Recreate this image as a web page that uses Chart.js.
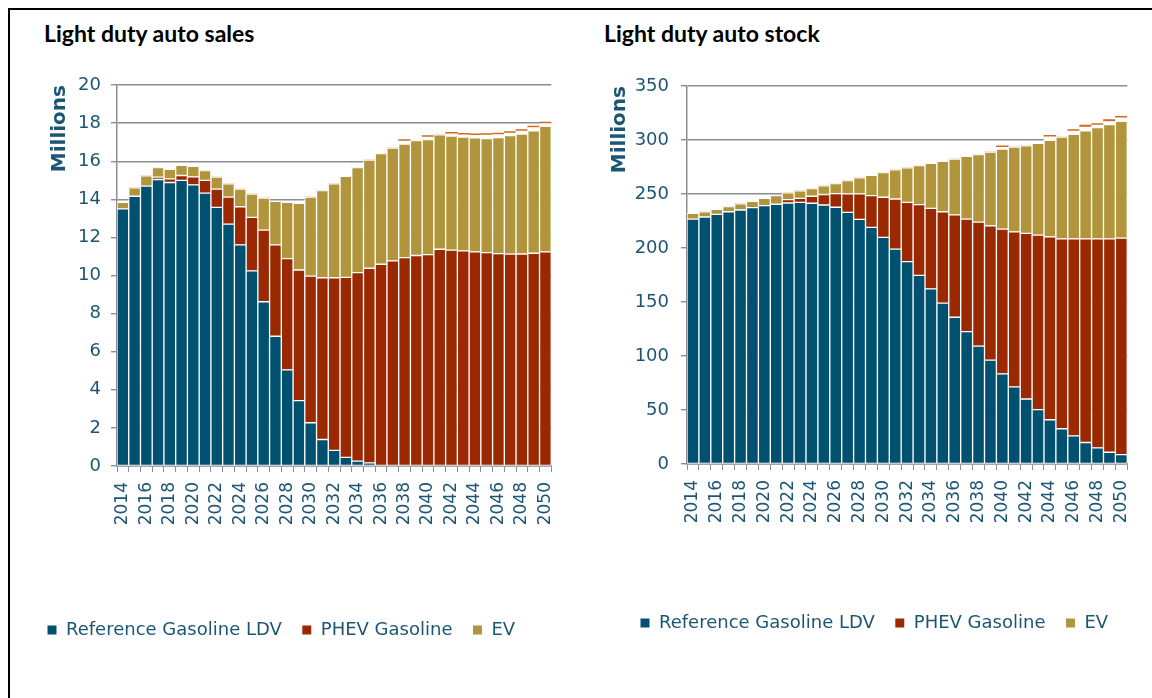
<!DOCTYPE html>
<html>
<head>
<meta charset="utf-8">
<script src="https://cdn.jsdelivr.net/npm/chart.js@4.4.0/dist/chart.umd.min.js"></script>
<style>
  html, body { margin: 0; background: #fff; overflow: hidden; }
  #frame { position: absolute; left: 8px; top: 8px; width: 1160px; height: 720px; border-left: 2px solid #000; border-top: 2px solid #000; }
  canvas { position: absolute; top: 0; }
  .title { position: absolute; top: 20px; font: bold 23px Lato, sans-serif; color: #000; line-height: 26px; }
</style>
</head>
<body>
<div id="frame"></div>
<div class="title" style="left:44px">Light duty auto sales</div>
<div class="title" style="left:604px">Light duty auto stock</div>
<canvas id="sales" width="576" height="698" style="left:0"></canvas>
<canvas id="stock" width="576" height="698" style="left:576px"></canvas>
<script>
// years on the x axis
const years = ['2014','2015','2016','2017','2018','2019','2020','2021','2022','2023',
  '2024','2025','2026','2027','2028','2029','2030','2031','2032','2033',
  '2034','2035','2036','2037','2038','2039','2040','2041','2042','2043',
  '2044','2045','2046','2047','2048','2049','2050'];

// sales, millions
const salesGasoline = [13.50, 14.16, 14.69, 15.04, 14.88, 14.99, 14.76, 14.32, 13.58, 12.70,
  11.61, 10.24, 8.62, 6.81, 5.05, 3.43, 2.27, 1.39, 0.82, 0.45,
  0.26, 0.16, 0, 0, 0, 0, 0, 0, 0, 0,
  0, 0, 0, 0, 0, 0, 0];
const salesPhev = [0, 0, 0, 0.12, 0.19, 0.26, 0.42, 0.67, 0.95, 1.41,
  2.00, 2.81, 3.76, 4.80, 5.84, 6.86, 7.70, 8.49, 9.06, 9.45,
  9.89, 10.22, 10.59, 10.77, 10.94, 11.05, 11.10, 11.38, 11.33, 11.29,
  11.24, 11.20, 11.15, 11.12, 11.13, 11.17, 11.24];
const salesEv = [0.34, 0.44, 0.54, 0.50, 0.50, 0.53, 0.55, 0.52, 0.63, 0.70,
  0.93, 1.23, 1.68, 2.29, 2.95, 3.50, 4.14, 4.58, 4.93, 5.30,
  5.51, 5.68, 5.81, 5.92, 5.96, 6.03, 6.03, 6.00, 5.99, 5.98,
  5.99, 5.99, 6.09, 6.22, 6.30, 6.43, 6.59];
// small unlabelled series on top (blank one, then the thin orange one)
const salesBlank = [0, 0, 0, 0, 0, 0, 0, 0, 0, 0,
  0, 0, 0, 0, 0, 0, 0, 0, 0, 0,
  0, 0, 0, 0, 0.15, 0, 0.14, 0, 0.12, 0.11,
  0.13, 0.18, 0.16, 0.13, 0.15, 0.17, 0.14];
const salesOther = [0, 0, 0, 0, 0, 0, 0, 0, 0, 0,
  0, 0, 0, 0, 0, 0, 0, 0, 0, 0,
  0, 0, 0, 0, 0.08, 0, 0.08, 0, 0.08, 0.08,
  0.08, 0.08, 0.08, 0.08, 0.08, 0.08, 0.08];

// stock, millions
const stockGasoline = [226.8, 228.7, 231.2, 233.6, 235.2, 237.4, 239.2, 240.5, 241.7, 242.3,
  241.4, 239.8, 237.7, 233.0, 226.5, 219.1, 209.8, 198.9, 187.4, 174.7,
  162.2, 148.9, 135.9, 122.6, 109.2, 96.2, 83.5, 71.4, 60.2, 50.3,
  41.0, 32.6, 26.1, 19.9, 14.9, 10.9, 8.7];
const stockPhev = [0, 0, 0, 0, 0, 0, 0, 0, 3.1, 3.7,
  6.5, 9.7, 12.7, 17.1, 23.6, 29.4, 37.2, 46.5, 54.9, 65.5,
  74.5, 84.7, 94.7, 104.2, 114.8, 124.4, 134.0, 143.6, 153.3, 161.6,
  169.4, 175.9, 182.4, 188.6, 193.6, 197.6, 200.4];
const stockEv = [5.3, 4.9, 4.6, 4.7, 5.6, 5.8, 6.8, 8.0, 6.2, 6.9,
  7.1, 8.1, 9.3, 12.4, 14.9, 18.9, 22.9, 27.0, 32.0, 36.0,
  41.6, 46.6, 51.7, 58.0, 62.4, 68.3, 74.2, 78.5, 81.0, 85.1,
  89.3, 94.3, 96.8, 99.9, 103.1, 105.8, 108.3];
const stockBlank = [0, 0, 0, 0, 0, 0, 0, 0, 0, 0,
  0, 0, 0, 0, 0, 0, 0, 0, 0, 0,
  0, 0, 0, 0, 0, 0, 1.5, 0, 0, 0,
  3.3, 0, 3.0, 3.6, 2.3, 2.8, 3.2];
const stockOther = [0, 0, 0, 0, 0, 0, 0, 0, 0, 0,
  0, 0, 0, 0, 0, 0, 0, 0, 0, 0,
  0, 0, 0, 0, 0, 0, 1.4, 0, 0, 0,
  1.4, 0, 1.4, 1.8, 1.4, 1.8, 1.4];

const BLUE = '#00506f';
const RED = '#9a2800';
const GOLD = '#b1953c';
const ORANGE = '#d2691e';
const TEXT = '#1d5674';
const AXIS = '#8a8d91';

Chart.defaults.font.family = "'DejaVu Sans', Verdana, sans-serif";

function makeChart(id, c) {
    return new Chart(document.getElementById(id), {
        type: 'bar',
        data: {
            labels: years,
            datasets: [
                { label: 'Reference Gasoline LDV', data: c.gasoline, backgroundColor: BLUE },
                { label: 'PHEV Gasoline', data: c.phev, backgroundColor: RED },
                { label: 'EV', data: c.ev, backgroundColor: GOLD },
                { label: 'Other', data: c.blank, backgroundColor: '#ffffff', borderWidth: 0 },
                { label: 'Other fuels', data: c.other, backgroundColor: ORANGE, borderWidth: 0 }
            ]
        },
        options: {
            responsive: false,
            animation: false,
            datasets: {
                bar: { categoryPercentage: 1, barPercentage: 1, borderColor: '#ffffff', borderWidth: 1, borderSkipped: false }
            },
            layout: { padding: c.padding },
            plugins: {
                tooltip: { enabled: false },
                legend: {
                    position: 'bottom',
                    align: 'start',
                    labels: {
                        boxWidth: 10, boxHeight: 10, padding: 20, color: TEXT,
                        font: { size: 18 },
                        filter: item => item.datasetIndex < 3
                    }
                }
            },
            scales: {
                x: {
                    stacked: true,
                    grid: { drawOnChartArea: false, color: AXIS, tickLength: 6 },
                    border: { color: AXIS, width: 1.5 },
                    ticks: {
                        autoSkip: false, maxRotation: 90, minRotation: 90, padding: 10,
                        color: TEXT, font: { size: 17 },
                        callback: function(v, i) { return i % 2 === 0 ? this.getLabelForValue(v) : ''; }
                    },
                    afterFit: s => { s.height = c.xHeight; }
                },
                y: {
                    stacked: true,
                    min: 0,
                    max: c.max,
                    ticks: { stepSize: c.step, padding: c.tickPad, color: TEXT, font: { size: 18 } },
                    grid: { color: AXIS, lineWidth: 1.4, tickLength: 6 },
                    border: { color: AXIS, width: 1.5 },
                    title: {
                        display: true, text: 'Millions', align: 'end', color: TEXT,
                        font: { size: 20, weight: 'bold' },
                        padding: { top: c.titlePad, bottom: 0 }
                    },
                    afterFit: s => { s.width = c.yWidth; }
                }
            }
        }
    });
}

makeChart('sales', {
    gasoline: salesGasoline, phev: salesPhev, ev: salesEv, blank: salesBlank, other: salesOther,
    max: 20, step: 2,
    padding: { left: 27, right: 15, top: 85, bottom: 49 },
    xHeight: 135, yWidth: 90, titlePad: 21, tickPad: 10
});

makeChart('stock', {
    gasoline: stockGasoline, phev: stockPhev, ev: stockEv, blank: stockBlank, other: stockOther,
    max: 350, step: 50,
    padding: { left: 44, right: 20, top: 86, bottom: 56 },
    xHeight: 130, yWidth: 67, titlePad: -12, tickPad: 12
});
</script>
</body>
</html>
